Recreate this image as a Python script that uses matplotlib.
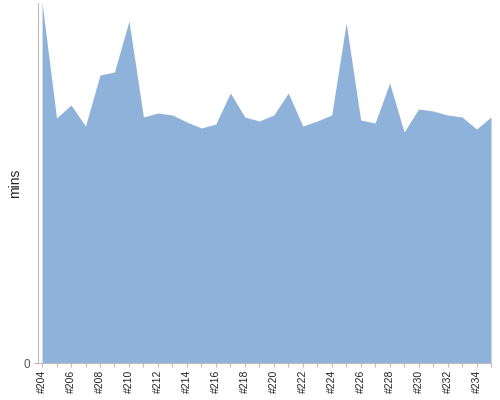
import matplotlib
matplotlib.use('Agg')
import matplotlib.pyplot as plt

# Build numbers #204 .. #235
builds = ['#%d' % n for n in range(204, 236)]
mins = [36.0, 24.5, 25.8, 23.7, 28.8, 29.1, 34.2, 24.6, 25.0, 24.8,
        24.1, 23.5, 23.9, 27.0, 24.6, 24.2, 24.8, 27.0, 23.7, 24.2,
        24.8, 34.0, 24.3, 24.0, 28.0, 23.1, 25.4, 25.2, 24.8, 24.6,
        23.4, 24.6]

plt.rcParams['font.family'] = ['Liberation Sans', 'DejaVu Sans']

fig = plt.figure(figsize=(5, 4), dpi=100)
ax = fig.add_axes([0.076, 0.0925, 0.906, 0.9])

x = list(range(len(builds)))
ax.fill_between(x, mins, 0, color='#8fb2da', linewidth=0)

ax.set_xlim(-0.28, len(builds) - 1)
ax.set_ylim(0, max(mins))

ax.set_xticks(x)
ax.set_xticklabels([b if i % 2 == 0 else '' for i, b in enumerate(builds)],
                   rotation=90, fontsize=7.5, color='#222222')
ax.set_yticks([0])
ax.set_yticklabels(['0'], fontsize=8.5, color='#555555')
ax.set_ylabel('mins', fontsize=10, color='#222222')
ax.yaxis.set_label_coords(-0.036, 0.5)

for side in ['top', 'right']:
    ax.spines[side].set_visible(False)
for side in ['left', 'bottom']:
    ax.spines[side].set_color('#bbbbbb')
ax.tick_params(axis='x', length=3, color='#bbbbbb', pad=2)
ax.tick_params(axis='y', length=3, color='#bbbbbb', pad=3)

fig.savefig('out.png', dpi=100)
